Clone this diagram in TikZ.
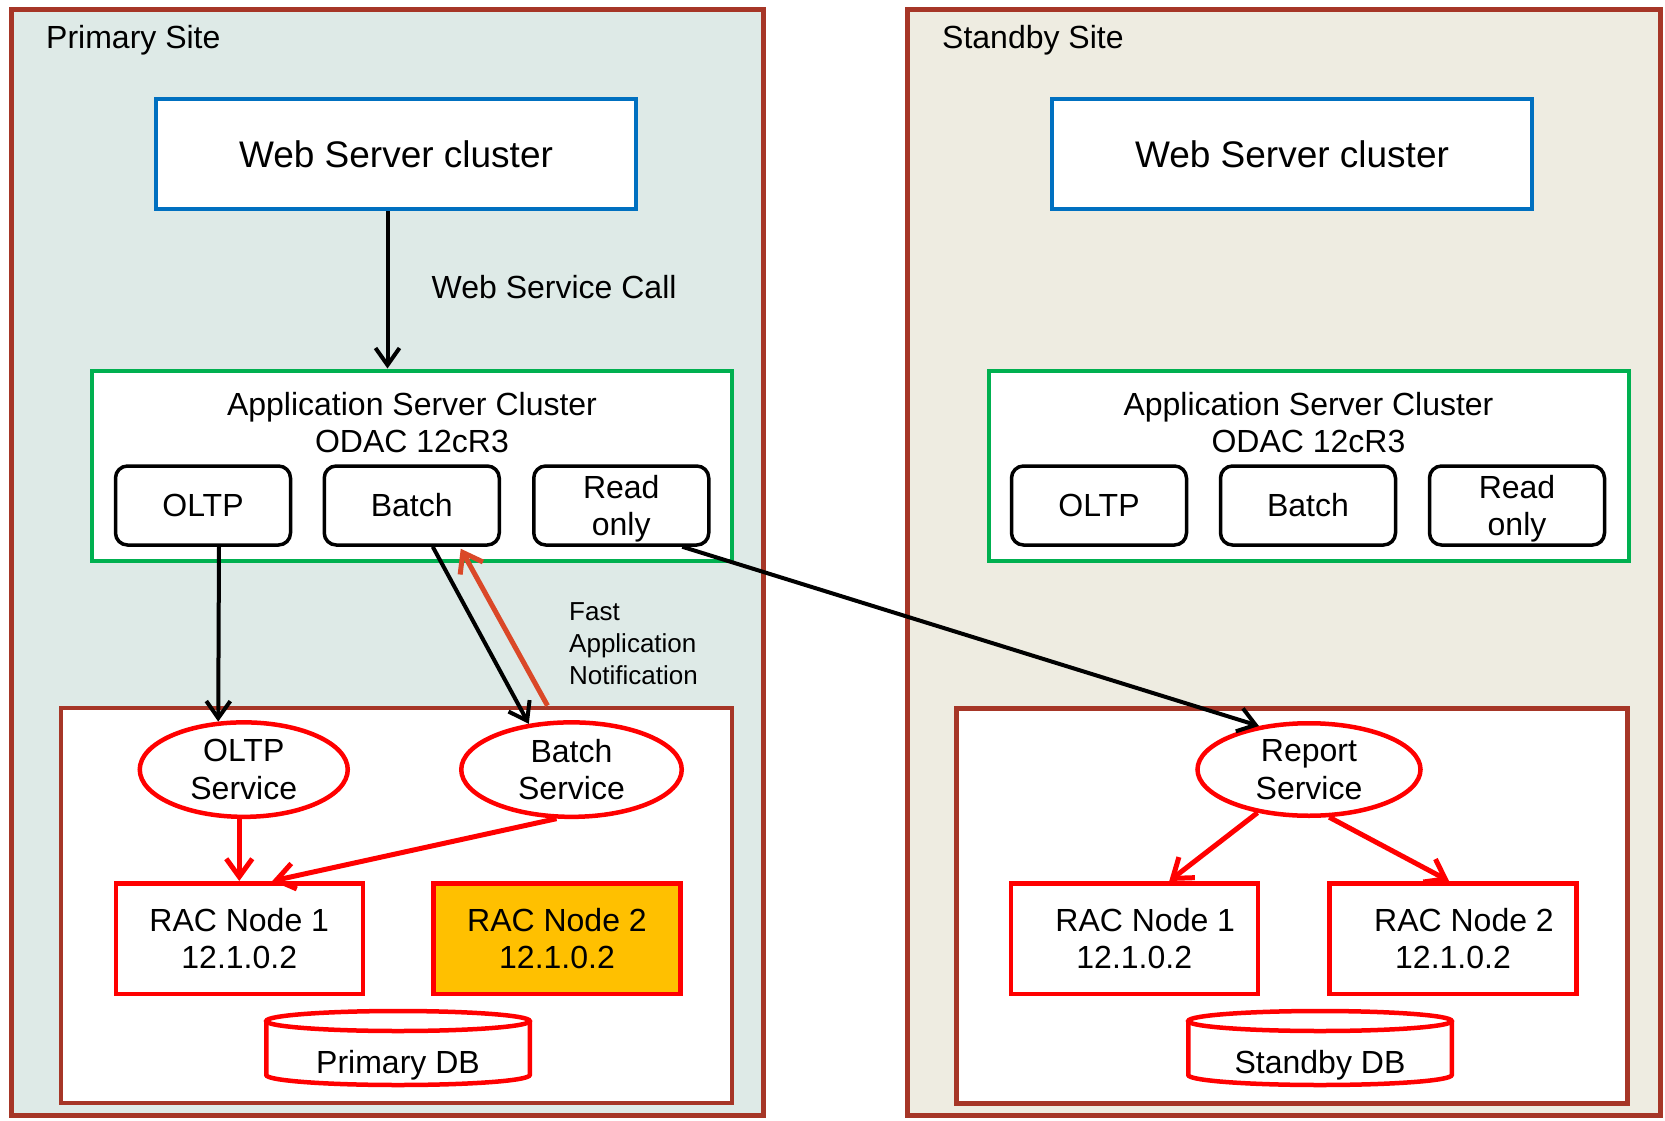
\documentclass[tikz,border=0pt]{standalone}
\usepackage{fontspec}
\setmainfont{Liberation Sans}
\usetikzlibrary{arrows.meta,calc,shapes.geometric}
\definecolor{sitebrd}{RGB}{166,54,39}
\definecolor{prifill}{RGB}{222,234,231}
\definecolor{stbfill}{RGB}{238,236,225}
\definecolor{wsblue}{RGB}{0,112,192}
\definecolor{asgreen}{RGB}{0,176,80}
\definecolor{racred}{RGB}{255,0,0}
\definecolor{fanred}{RGB}{218,72,40}
\definecolor{racorange}{RGB}{255,192,0}
\newcommand\fmain{\fontsize{32pt}{37.5pt}\selectfont}
\newcommand\fbig{\fontsize{37pt}{42pt}\selectfont}
\newcommand\fsmall{\fontsize{26pt}{32pt}\selectfont}
\begin{document}
\begin{tikzpicture}[x=1pt,y=-1pt,
  site/.style={draw=sitebrd,line width=5pt},
  wsbox/.style={draw=wsblue,line width=4.5pt,fill=white,minimum width=480pt,minimum height=110pt,inner sep=0pt,font=\fbig},
  asbox/.style={draw=asgreen,line width=4pt,fill=white,minimum width=640pt,minimum height=190pt,inner sep=0pt},
  appbox/.style={draw=black,line width=3.5pt,rounded corners=12pt,fill=white,minimum width=175pt,minimum height=79pt,inner sep=0pt,font=\fmain,align=center},
  dbbox/.style={draw=sitebrd,line width=4.5pt,fill=white,minimum width=671pt,minimum height=395pt,inner sep=0pt},
  svc/.style={ellipse,draw=racred,line width=4.5pt,fill=white,inner sep=0pt,font=\fmain,align=center,minimum height=94.5pt},
  rac/.style={draw=racred,line width=4.5pt,minimum width=247pt,minimum height=110.5pt,inner sep=0pt,font=\fmain,align=center},
  cyl/.style={draw=racred,line width=4.5pt,fill=white},
  txt/.style={inner sep=0pt,font=\fmain},
  arr/.style={-{Straight Barb[length=17pt,width=24pt]},line width=4pt,draw=black},
  rarr/.style={-{Straight Barb[length=18pt,width=26pt]},line width=5pt,draw=racred},
  farr/.style={-{Straight Barb[length=18pt,width=26pt]},line width=5pt,draw=fanred},
]
\useasboundingbox (0,0) rectangle (1665,1121);
% sites
\draw[site,fill=prifill] (11.5,9.5) rectangle (763.5,1115.5);
\draw[site,fill=stbfill] (907.5,9.5) rectangle (1660,1115.5);
\node[txt,anchor=base west] (lpri) at (46,49) {Primary Site};
\node[txt,anchor=base west] (lstb) at (942,49) {Standby Site};

% web servers
\node[wsbox] (wsp) at (396,154) {Web Server cluster};
\node[wsbox] (wss) at (1292,154) {Web Server cluster};

% application server clusters
\node[asbox] (asp) at (412,465.5) {};
\node[asbox] (ass) at (1308.5,465.5) {};
\node[txt,align=center] (tasp) at (412,422.5) {Application Server Cluster\\ODAC 12cR3};
\node[txt,align=center] (tass) at (1308.5,422.5) {Application Server Cluster\\ODAC 12cR3};
\node[appbox] (oltpp) at (203,505.5) {OLTP};
\node[appbox] (batchp) at (411.75,505.5) {Batch};
\node[appbox,text depth=0pt] (rop) at (621.25,505.5) {Read\\only};
\node[appbox] (oltps) at (1099,505.5) {OLTP};
\node[appbox] (batchs) at (1308,505.5) {Batch};
\node[appbox,text depth=0pt] (ros) at (1517,505.5) {Read\\only};

% database boxes
\node[dbbox] (dbp) at (396.5,905.4) {};
\node[dbbox] (dbs) at (1292,906) {};

% services
\node[svc,minimum width=208pt] (osvc) at (243.75,769.6) {OLTP\\Service};
\node[svc,minimum width=220.5pt] (bsvc) at (571.5,769.6) {Batch\\Service};
\node[svc,minimum width=223pt,minimum height=92.5pt] (rsvc) at (1309,769.5) {Report\\Service};

% RAC nodes
\node[rac,fill=white] (rac1p) at (239.25,938.5) {RAC Node 1\\12.1.0.2};
\node[rac,fill=racorange] (rac2p) at (557,938.5) {RAC Node 2\\12.1.0.2};
\node[rac,fill=white] (rac1s) at (1134.25,938.5) {\hspace*{22pt}RAC Node 1\\12.1.0.2};
\node[rac,fill=white] (rac2s) at (1453,938.5) {\hspace*{22pt}RAC Node 2\\12.1.0.2};

% cylinders
\draw[cyl] (266.25,1021) -- (266.25,1075) arc[start angle=180,end angle=0,x radius=131.75,y radius=10] -- (529.75,1021);
\draw[cyl] (398,1021) ellipse[x radius=131.75,y radius=10];
\node[txt] (pdb) at (398,1065) {Primary DB};
\draw[cyl] (1188.25,1021) -- (1188.25,1075) arc[start angle=180,end angle=0,x radius=131.75,y radius=10] -- (1451.75,1021);
\draw[cyl] (1320,1021) ellipse[x radius=131.75,y radius=10];
\node[txt] (sdb) at (1320,1065) {Standby DB};

% labels
\node[txt,anchor=base west] (wsc) at (431.5,298) {Web Service Call};
\node[inner sep=0pt,font=\fsmall,align=left,anchor=west] (fan) at (569,643.5) {Fast\\Application\\Notification};

% connectors
\draw[arr] ($(wsp.south)+(-8.5,0)$) coordinate (wsa) -- (wsa |- asp.north);
\draw[arr] ($(oltpp.south)+(16,0)$) -- (osvc.118);
\draw[arr] ($(batchp.south)+(21,0)$) -- (bsvc.133);
\draw[farr] ($(dbp.north)+(151,0)$) -- ($(batchp.south)+(49,2)$);
\draw[arr] ($(rop.south)+(61,0)$) -- (rsvc.139);
\draw[rarr] (osvc.south -| rac1p.north) -- (rac1p.north);
\draw[rarr] (bsvc.253) -- ($(rac1p.north)+(33,0)$);
\draw[rarr] (rsvc.220) -- ($(rac1s.north)+(35,0)$);
\draw[rarr] (rsvc.293) -- ($(rac2s.north)+(-4,0)$);
\end{tikzpicture}
\end{document}
